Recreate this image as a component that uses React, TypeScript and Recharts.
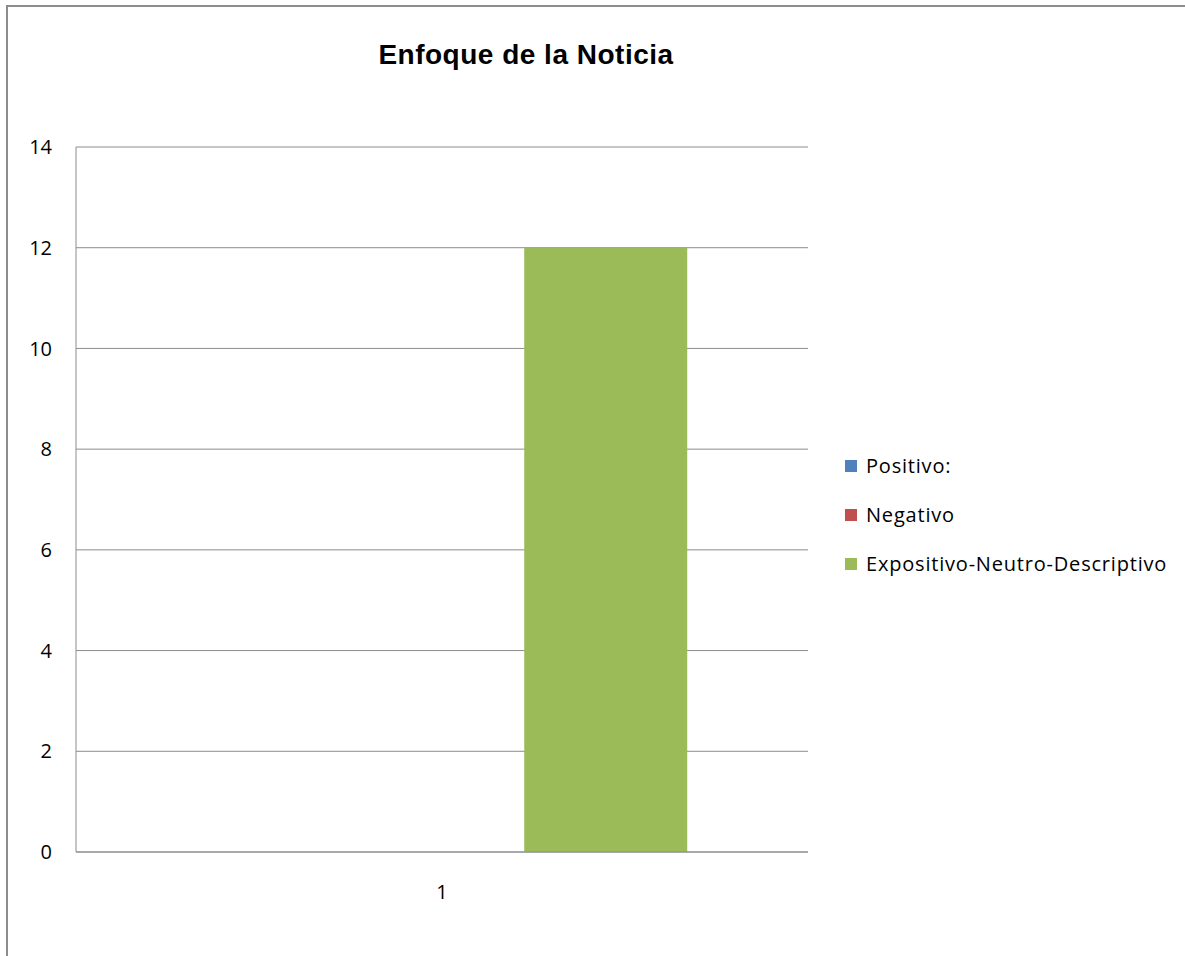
import React from 'react';
import { BarChart, Bar, XAxis, YAxis, CartesianGrid } from 'recharts';

const categories = ['1'];
const positivo = [0];
const negativo = [0];
const expositivo = [12];
const yTicks = [0, 2, 4, 6, 8, 10, 12, 14];
const seriesNames = ['Positivo:', 'Negativo', 'Expositivo-Neutro-Descriptivo'];
const seriesColors = ['#4F81BD', '#C0504D', '#9BBB59'];
const title = 'Enfoque de la Noticia';

const data = categories.map((c, i) => ({
  cat: c,
  s0: positivo[i],
  s1: negativo[i],
  s2: expositivo[i],
}));

const tickFont = { fontFamily: '"Open Sans", Lato, sans-serif', fontSize: 20, fill: '#000' };

export default function App() {
  return (
    <div style={{ position: 'absolute', left: 0, top: 0, width: 1185, height: 956, background: '#fff', overflow: 'hidden' }}>
      <div style={{ position: 'absolute', left: 6, top: 5, width: 1200, height: 1000, borderLeft: '2px solid #8c8c8c', borderTop: '2px solid #8c8c8c' }} />
      <div style={{ position: 'absolute', left: 0, top: 39, width: 1052, textAlign: 'center', fontFamily: '"Liberation Sans", Arial, sans-serif', fontWeight: 'bold', fontSize: 28, letterSpacing: 0.5, color: '#000', lineHeight: 'normal' }}>
        {title}
      </div>
      <div style={{ position: 'absolute', left: 0, top: 0 }}>
        <BarChart
          width={1185}
          height={956}
          data={data}
          margin={{ top: 147, right: 377, bottom: 0, left: 0 }}
          barCategoryGap="16.7%"
          barGap={0}
        >
          <CartesianGrid vertical={false} stroke="#8c8c8c" strokeWidth={1} />
          <XAxis
            dataKey="cat"
            tickLine={false}
            tickSize={0}
            tickMargin={33}
            axisLine={{ stroke: '#8c8c8c' }}
            tick={tickFont}
            height={104}
          />
          <YAxis
            domain={[0, 14]}
            ticks={yTicks}
            interval={0}
            tickLine={false}
            tickSize={0}
            tickMargin={24}
            axisLine={{ stroke: '#8c8c8c' }}
            tick={tickFont}
            width={76}
          />
          <Bar dataKey="s0" name={seriesNames[0]} fill={seriesColors[0]} isAnimationActive={false} />
          <Bar dataKey="s1" name={seriesNames[1]} fill={seriesColors[1]} isAnimationActive={false} />
          <Bar dataKey="s2" name={seriesNames[2]} fill={seriesColors[2]} isAnimationActive={false} />
        </BarChart>
      </div>
      <div style={{ position: 'absolute', left: 845, top: 441, fontFamily: '"Open Sans", Lato, sans-serif', fontSize: 20, letterSpacing: 0.8, color: '#000' }}>
        {seriesNames.map((n, i) => (
          <div key={n} style={{ display: 'flex', alignItems: 'center', height: 49, whiteSpace: 'nowrap' }}>
            <span style={{ display: 'inline-block', width: 12, height: 12, background: seriesColors[i], marginRight: 9 }} />
            <span>{n}</span>
          </div>
        ))}
      </div>
    </div>
  );
}
